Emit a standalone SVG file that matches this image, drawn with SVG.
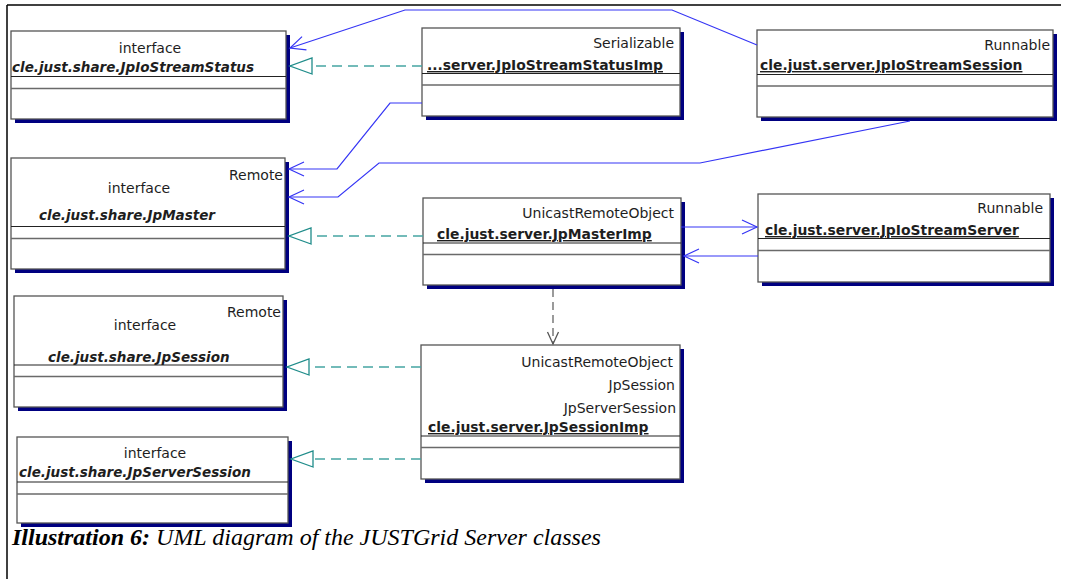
<svg xmlns="http://www.w3.org/2000/svg" width="1066" height="579" viewBox="0 0 1066 579">
  <style>
    .shadow { fill: #000080; }
    .box { fill: #ffffff; stroke: #555555; stroke-width: 1.3; }
    .d1 { stroke: #222222; stroke-width: 1.2; }
    .d2 { stroke: #6a6a6a; stroke-width: 1.3; }
    .t { font-family: "DejaVu Sans", Verdana, sans-serif; font-size: 14px; fill: #1e1e1e; }
    .r { text-anchor: end; }
    .m { text-anchor: middle; }
    .cls { font-weight: bold; font-size: 13.9px; text-decoration: underline; }
    .ifc { font-weight: bold; font-style: italic; font-size: 13.5px; }
    .assoc { fill: none; stroke: #3535f5; stroke-width: 1.2; marker-end: url(#open); }
    .real { fill: none; stroke: #45a5a3; stroke-width: 1.3; stroke-dasharray: 10 6; marker-end: url(#tri); }
    .dep { fill: none; stroke: #666666; stroke-width: 1.3; stroke-dasharray: 8 5; marker-end: url(#vhead); }
    .frame { stroke: #000000; stroke-width: 1.5; }
    .cap { font-family: "Liberation Serif", "Times New Roman", serif; font-size: 24px; font-style: italic; fill: #000; }
  </style>
  <defs>
    <marker id="open" markerUnits="userSpaceOnUse" viewBox="-17 -9 19 18" refX="0" refY="0" markerWidth="19" markerHeight="18" orient="auto">
      <path d="M-15,-7 L0,0 L-15,7" fill="none" stroke="#3535f5" stroke-width="1.2"/>
    </marker>
    <marker id="tri" markerUnits="userSpaceOnUse" viewBox="-24 -10 26 20" refX="0" refY="0" markerWidth="26" markerHeight="20" orient="auto">
      <path d="M-22,-8 L0,0 L-22,8 Z" fill="#ffffff" stroke="#1f8c8a" stroke-width="1.3" stroke-dasharray="none"/>
    </marker>
    <marker id="vhead" markerUnits="userSpaceOnUse" viewBox="-14 -8 16 16" refX="0" refY="0" markerWidth="16" markerHeight="16" orient="auto">
      <path d="M-12,-5.5 L0,0 L-12,5.5" fill="none" stroke="#555555" stroke-width="1.3" stroke-dasharray="none"/>
    </marker>
  </defs>

  <!-- page border -->
  <line class="frame" x1="7" y1="5" x2="1061" y2="5"/>
  <line class="frame" x1="7" y1="5" x2="7" y2="579"/>

  <!-- interface JpIoStreamStatus -->
  <g id="JpIoStreamStatus">
    <rect class="shadow" x="15" y="35" width="275" height="88"/>
    <rect class="box" x="11" y="31" width="275" height="88"/>
    <line class="d1" x1="11" y1="76.5" x2="286" y2="76.5"/>
    <line class="d2" x1="11" y1="88.5" x2="286" y2="88.5"/>
    <text class="t m" x="150" y="53">interface</text>
    <text class="t ifc" x="12" y="72">cle.just.share.JpIoStreamStatus</text>
  </g>

  <!-- class JpIoStreamStatusImp -->
  <g id="JpIoStreamStatusImp">
    <rect class="shadow" x="426" y="32" width="258" height="88"/>
    <rect class="box" x="422" y="28" width="258" height="88"/>
    <line class="d1" x1="422" y1="73.5" x2="680" y2="73.5"/>
    <line class="d2" x1="422" y1="85" x2="680" y2="85"/>
    <text class="t r" x="674" y="48">Serializable</text>
    <text class="t cls" x="427" y="70">...server.JpIoStreamStatusImp</text>
  </g>

  <!-- class JpIoStreamSession -->
  <g id="JpIoStreamSession">
    <rect class="shadow" x="761" y="34" width="296" height="87"/>
    <rect class="box" x="757" y="30" width="296" height="87"/>
    <line class="d1" x1="757" y1="74.5" x2="1053" y2="74.5"/>
    <line class="d2" x1="757" y1="86" x2="1053" y2="86"/>
    <text class="t r" x="1050" y="50">Runnable</text>
    <text class="t cls" x="760" y="70">cle.just.server.JpIoStreamSession</text>
  </g>

  <!-- interface JpMaster -->
  <g id="JpMaster">
    <rect class="shadow" x="15" y="162" width="274" height="111"/>
    <rect class="box" x="11" y="158" width="274" height="111"/>
    <line class="d1" x1="11" y1="226.5" x2="285" y2="226.5"/>
    <line class="d2" x1="11" y1="238.5" x2="285" y2="238.5"/>
    <text class="t r" x="283" y="180">Remote</text>
    <text class="t m" x="139" y="193">interface</text>
    <text class="t ifc" x="39" y="220">cle.just.share.JpMaster</text>
  </g>

  <!-- class JpMasterImp -->
  <g id="JpMasterImp">
    <rect class="shadow" x="427" y="202" width="258" height="87"/>
    <rect class="box" x="423" y="198" width="258" height="87"/>
    <line class="d1" x1="423" y1="243" x2="681" y2="243"/>
    <line class="d2" x1="423" y1="254.5" x2="681" y2="254.5"/>
    <text class="t r" x="674" y="218">UnicastRemoteObject</text>
    <text class="t cls" x="437" y="239">cle.just.server.JpMasterImp</text>
  </g>

  <!-- class JpIoStreamServer -->
  <g id="JpIoStreamServer">
    <rect class="shadow" x="762" y="198" width="292" height="88"/>
    <rect class="box" x="758" y="194" width="292" height="88"/>
    <line class="d1" x1="758" y1="238.5" x2="1050" y2="238.5"/>
    <line class="d2" x1="758" y1="250.5" x2="1050" y2="250.5"/>
    <text class="t r" x="1043" y="213">Runnable</text>
    <text class="t cls" x="765" y="235">cle.just.server.JpIoStreamServer</text>
  </g>

  <!-- interface JpSession -->
  <g id="JpSession">
    <rect class="shadow" x="18" y="300" width="269" height="111"/>
    <rect class="box" x="14" y="296" width="269" height="111"/>
    <line class="d1" x1="14" y1="365" x2="283" y2="365"/>
    <line class="d2" x1="14" y1="376.5" x2="283" y2="376.5"/>
    <text class="t r" x="281" y="317">Remote</text>
    <text class="t m" x="145" y="330">interface</text>
    <text class="t ifc" x="48" y="362">cle.just.share.JpSession</text>
  </g>

  <!-- class JpSessionImp -->
  <g id="JpSessionImp">
    <rect class="shadow" x="425" y="349" width="259" height="134"/>
    <rect class="box" x="421" y="345" width="259" height="134"/>
    <line class="d1" x1="421" y1="436" x2="680" y2="436"/>
    <line class="d2" x1="421" y1="447.5" x2="680" y2="447.5"/>
    <text class="t r" x="673" y="367">UnicastRemoteObject</text>
    <text class="t r" x="675" y="390">JpSession</text>
    <text class="t r" x="676" y="413">JpServerSession</text>
    <text class="t cls" x="428" y="432">cle.just.server.JpSessionImp</text>
  </g>

  <!-- interface JpServerSession -->
  <g id="JpServerSession">
    <rect class="shadow" x="21" y="441" width="271" height="86"/>
    <rect class="box" x="17" y="437" width="271" height="86"/>
    <line class="d1" x1="17" y1="482" x2="288" y2="482"/>
    <line class="d2" x1="17" y1="494" x2="288" y2="494"/>
    <text class="t m" x="155" y="458">interface</text>
    <text class="t ifc" x="19" y="477">cle.just.share.JpServerSession</text>
  </g>

  <!-- connectors -->
  <g id="connectors">
    <polyline class="assoc" points="757,45 672,10 405,10 290,48"/>
    <polyline class="assoc" points="422,103 390,103 337,169 289,169"/>
    <polyline class="assoc" points="910,121 700,163 379,163 338,197 289,197"/>
    <line class="assoc" x1="681" y1="227" x2="757" y2="227"/>
    <line class="assoc" x1="758" y1="256" x2="684" y2="256"/>
    <line class="real" x1="422" y1="66" x2="290" y2="66"/>
    <line class="real" x1="423" y1="236" x2="289" y2="236"/>
    <line class="real" x1="421" y1="367" x2="287" y2="367"/>
    <line class="real" x1="421" y1="459" x2="291" y2="459"/>
    <line class="dep" x1="553" y1="289" x2="553" y2="344"/>
  </g>

  <!-- caption -->
  <text class="cap" x="12" y="545"><tspan font-weight="bold">Illustration 6:</tspan> UML diagram of the JUSTGrid Server classes</text>
</svg>
